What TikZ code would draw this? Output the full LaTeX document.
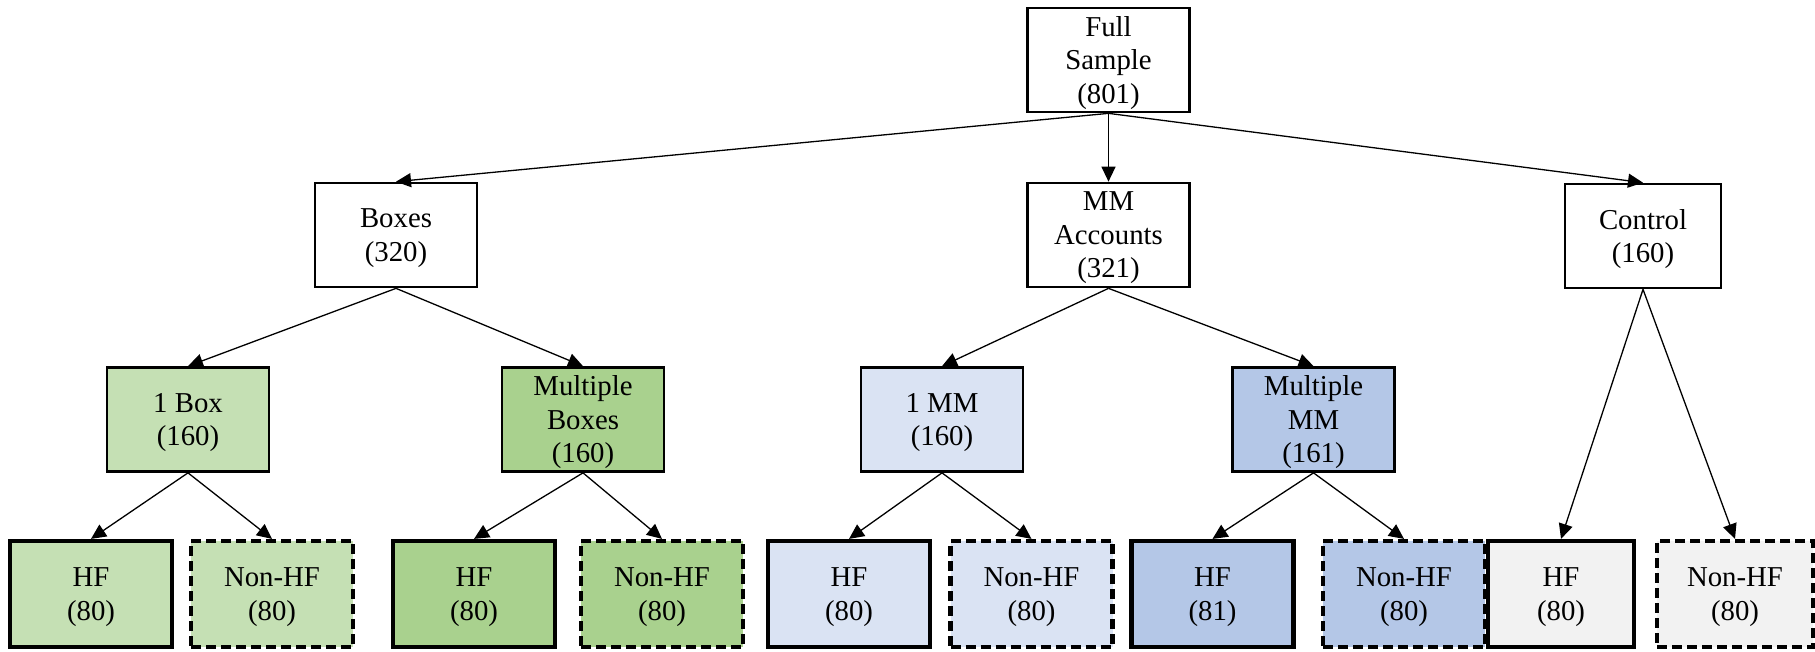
\documentclass[tikz,border=0pt]{standalone}
\usepackage{fontspec}
\setmainfont{Liberation Serif}
\usetikzlibrary{arrows.meta}
\definecolor{boxone}{HTML}{C5E0B4}
\definecolor{boxmulti}{HTML}{A9D18E}
\definecolor{mmone}{HTML}{DAE3F3}
\definecolor{mmmulti}{HTML}{B4C7E7}
\definecolor{ctrlgray}{HTML}{F2F2F2}
\begin{document}
\begin{tikzpicture}[x=1pt,y=-1pt,
  group/.style={draw, line width=2.7pt, rectangle, align=center, inner sep=0pt,
    minimum width=162pt, minimum height=104pt,
    font=\fontsize{28.8}{33.5}\selectfont, text depth=-3pt},
  hfbox/.style={group, line width=4.2pt, minimum height=106pt},
  nonhfbox/.style={hfbox, dash pattern=on 10pt off 5pt},
  link/.style={line width=1.3pt, -{Triangle[length=15pt,width=14pt]}}]
  \useasboundingbox (0,0) rectangle (1815,651);
  \node[group] (full) at (1108.5,60) {Full\\Sample\\(801)};
  \node[group] (boxes) at (396,235) {Boxes\\(320)};
  \node[group] (mm) at (1108.5,235) {MM\\Accounts\\(321)};
  \node[group, minimum width=156pt] (control) at (1643,236) {Control\\(160)};
  \node[group, fill=boxone] (onebox) at (188,419.5) {1 Box\\(160)};
  \node[group, fill=boxmulti] (multibox) at (583,419.5) {Multiple\\Boxes\\(160)};
  \node[group, fill=mmone] (onemm) at (942,419.5) {1 MM\\(160)};
  \node[group, fill=mmmulti] (multimm) at (1313.5,419.5) {Multiple\\MM\\(161)};
  \node[hfbox, fill=boxone] (hfA) at (91,594) {HF\\(80)};
  \node[nonhfbox, fill=boxone] (nonhfA) at (272,594) {Non-HF\\(80)};
  \node[hfbox, fill=boxmulti] (hfB) at (474,594) {HF\\(80)};
  \node[nonhfbox, fill=boxmulti] (nonhfB) at (662,594) {Non-HF\\(80)};
  \node[hfbox, fill=mmone] (hfC) at (849,594) {HF\\(80)};
  \node[nonhfbox, fill=mmone] (nonhfC) at (1031.5,594) {Non-HF\\(80)};
  \node[hfbox, fill=mmmulti] (hfD) at (1212.5,594) {HF\\(81)};
  \node[nonhfbox, fill=mmmulti] (nonhfD) at (1404,594) {Non-HF\\(80)};
  \node[hfbox, fill=ctrlgray, minimum width=146pt] (hfE) at (1561,594) {HF\\(80)};
  \node[nonhfbox, fill=ctrlgray, minimum width=156pt] (nonhfE) at (1735,594) {Non-HF\\(80)};
  \draw[link] (full.south) -- (boxes.north);
  \draw[link] (full.south) -- (mm.north);
  \draw[link] (full.south) -- (control.north);
  \draw[link] (boxes.south) -- (onebox.north);
  \draw[link] (boxes.south) -- (multibox.north);
  \draw[link] (mm.south) -- (onemm.north);
  \draw[link] (mm.south) -- (multimm.north);
  \draw[link] (onebox.south) -- (hfA.north);
  \draw[link] (onebox.south) -- (nonhfA.north);
  \draw[link] (multibox.south) -- (hfB.north);
  \draw[link] (multibox.south) -- (nonhfB.north);
  \draw[link] (onemm.south) -- (hfC.north);
  \draw[link] (onemm.south) -- (nonhfC.north);
  \draw[link] (multimm.south) -- (hfD.north);
  \draw[link] (multimm.south) -- (nonhfD.north);
  \draw[link] (control.south) -- (hfE.north);
  \draw[link] (control.south) -- (nonhfE.north);
\end{tikzpicture}
\end{document}
